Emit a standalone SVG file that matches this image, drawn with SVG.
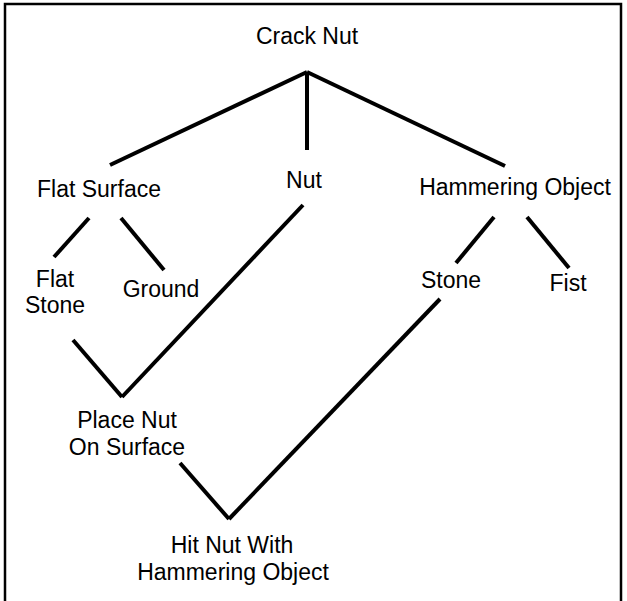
<svg xmlns="http://www.w3.org/2000/svg" width="627" height="601" viewBox="0 0 627 601">
<style>
.t{font-family:"Liberation Sans",Arial,sans-serif;font-size:23px;fill:#000;text-anchor:middle}
.c line{stroke:#000;stroke-width:4;stroke-linecap:butt}
.b{fill:none;stroke:#000;stroke-width:2.5}
</style>
<rect width="627" height="601" fill="#fff"/>
<path class="b" d="M5,601 V4 H621 V601"/>
<g id="crack-nut"><text class="t" x="307" y="44">Crack Nut</text></g>
<g id="flat-surface"><text class="t" x="99" y="197">Flat Surface</text></g>
<g id="nut"><text class="t" x="304" y="188">Nut</text></g>
<g id="hammering-object"><text class="t" x="515" y="195">Hammering Object</text></g>
<g id="flat-stone"><text class="t" x="55" y="287">Flat</text><text class="t" x="55" y="313">Stone</text></g>
<g id="ground"><text class="t" x="161" y="297">Ground</text></g>
<g id="stone"><text class="t" x="451" y="288">Stone</text></g>
<g id="fist"><text class="t" x="568" y="291">Fist</text></g>
<g id="place-nut"><text class="t" x="127" y="428">Place Nut</text><text class="t" x="127" y="455">On Surface</text></g>
<g id="hit-nut"><text class="t" x="232" y="553">Hit Nut With</text><text class="t" x="233" y="580">Hammering Object</text></g>
<g class="c" id="connectors">
<line x1="307" y1="72" x2="110" y2="165"/>
<line x1="307" y1="72" x2="307" y2="150"/>
<line x1="307" y1="72" x2="505" y2="166"/>
<line x1="89" y1="218" x2="54" y2="257"/>
<line x1="121" y1="218" x2="164" y2="270"/>
<line x1="494" y1="217" x2="456" y2="263"/>
<line x1="527" y1="217" x2="569" y2="268"/>
<line x1="73" y1="340" x2="122" y2="397"/>
<line x1="303" y1="205" x2="122" y2="397"/>
<line x1="180" y1="463" x2="229" y2="519"/>
<line x1="440" y1="299" x2="229" y2="519"/>
</g>
</svg>
